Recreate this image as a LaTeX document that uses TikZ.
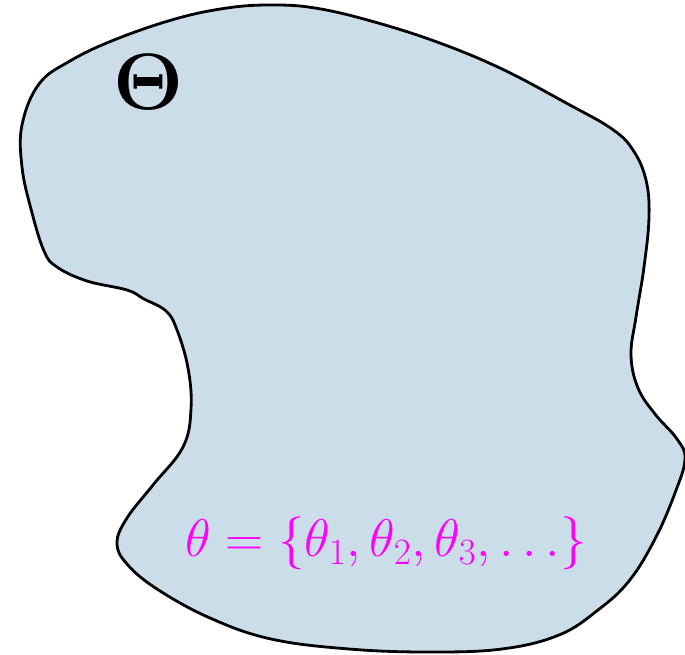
\RequirePackage{fix-cm}
\documentclass[tikz,border=0pt]{standalone}
\usepackage{amsmath}
\definecolor{regionfill}{RGB}{202,221,232}
\definecolor{setmagenta}{RGB}{255,0,255}
\tikzset{
  region/.style={draw=black, fill=regionfill, line width=2.8pt, line join=round},
  bigsym/.style={inner sep=0pt, font=\fontsize{80}{90}\selectfont},
  setlabel/.style={inner sep=0pt, text=setmagenta, font=\fontsize{53}{60}\selectfont}
}
\begin{document}
\begin{tikzpicture}[x=1pt,y=-1pt]
\useasboundingbox (0,0) rectangle (685,655);
\draw[region] plot[smooth cycle, tension=0.65] coordinates {
  (39,84) (70,61) (114,40) (175,19) (227,8) (271,5) (315,8) (371,21)
  (437,42) (502,69) (568,104) (612,129) (633,150) (646,180) (649,217)
  (644,267) (636,317) (631,355) (638,388) (655,414) (677,439) (685,459)
  (675,493) (655,539) (629,581) (598,610) (559,635) (502,649) (428,652)
  (349,649) (271,639) (210,618) (157,589) (127,564) (117,543) (127,518)
  (153,485) (183,447) (191,409) (188,368) (177,330) (166,311) (144,299)
  (127,290) (87,281) (57,267) (44,251) (31,209) (22,167) (22,125)
};
\node[bigsym] (bigtheta) at (148,82) {$\mathbf{\Theta}$};
\node[setlabel] (thetaset) at (386,543) {$\theta=\{\theta_1,\theta_2,\theta_3,\ldots\}$};
\end{tikzpicture}
\end{document}
